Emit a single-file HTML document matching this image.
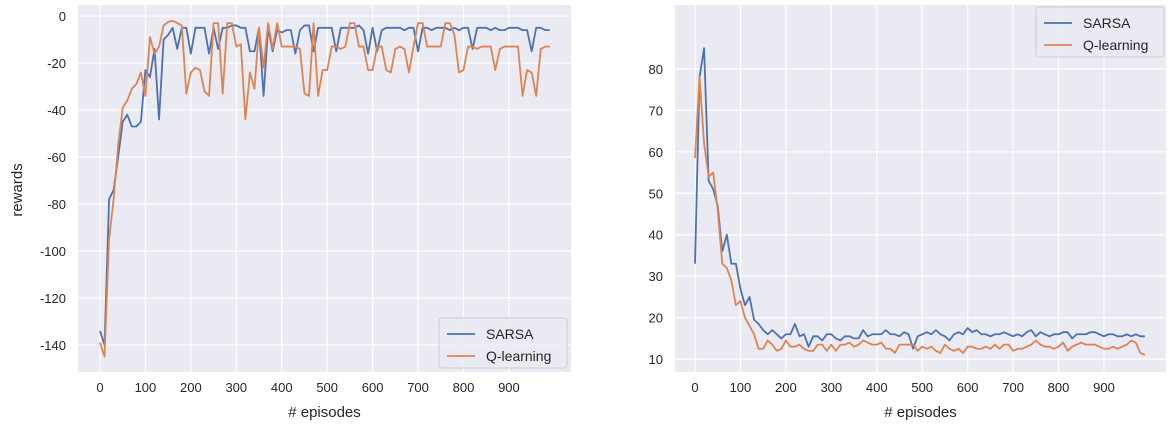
<!DOCTYPE html>
<html><head><meta charset="utf-8"><style>
body{margin:0;background:#fff;width:1173px;height:430px;overflow:hidden}
svg text{font-family:"Liberation Sans",sans-serif;fill:#262626}
</style></head><body>
<svg id="c" width="1173" height="430" xmlns="http://www.w3.org/2000/svg"></svg>
<script>
const episodes=[];for(let i=0;i<100;i++)episodes.push(i*10);
const leftSarsa=[-134,-140,-78,-74,-60,-45,-42,-47,-47,-45,-23,-26,-14,-44,-10,-8,-5,-14,-5,-5,-16,-5,-5,-5,-16,-5,-14,-5,-5,-4,-4,-5,-5,-15,-15,-5,-34,-5,-15,-6,-7,-6,-6,-16,-6,-4,-4,-15,-5,-5,-5,-5,-15,-5,-5,-5,-5,-4,-6,-16,-5,-15,-6,-5,-5,-5,-5,-6,-5,-5,-15,-5,-5,-6,-5,-5,-5,-6,-5,-6,-5,-5,-14,-5,-5,-5,-6,-5,-6,-6,-5,-5,-5,-6,-6,-15,-5,-5,-6,-6];
const leftQ=[-139,-145,-95,-78,-55,-39,-36,-31,-29,-24,-34,-9,-16,-13,-4,-2.5,-2,-3,-4,-33,-24,-22,-23,-32,-34,-3,-3,-33,-3,-3,-13,-12,-44,-24,-31,-5,-22,-3,-14,-3,-13,-13,-13,-13,-14,-33,-34,-3,-34,-23,-23,-13,-13,-14,-13,-3,-3,-13,-13,-23,-23,-13,-13,-23,-24,-14,-13,-14,-24,-13,-3,-3,-13,-13,-13,-13,-3,-3,-8,-24,-23,-13,-13,-14,-13,-13,-13,-23,-14,-13,-13,-13,-13,-34,-23,-24,-34,-14,-13,-13];
const rightSarsa=[33,78,85,53,51,47,36,40,33,33,27,23,25,19.5,18.5,17,16,17,16,15,16,16,18.5,15.5,16,13,15.5,15.5,14.5,16,16,15,14.5,15.5,15.5,15,15,17,15.5,16,16,16,17,16,16,15.5,16.5,16,12.5,15.5,16,16.5,16,17,16,15.5,14.5,16,16.5,16,17.5,16.5,17,16,16,15.5,16,16,16.5,16,15.5,16,15.5,16.5,17,15.5,16.5,16,15.5,16,16,16.5,16.5,15,16,16,16,16.5,16.5,16,15.5,16,16,15.5,15.5,16,15.5,16,15.5,15.5];
const rightQ=[58.5,78,62,54,55,46,33,32,29,23,24,20,18,16,12.5,12.5,14.5,13.5,12,12.5,14.5,13,13,13.5,12.5,12,12,13.5,13.5,12,13.5,12,13.5,13.5,14,13,13.5,14.5,14,13.5,13.5,14,12.5,12.5,11.5,13.5,13.5,13.5,13.5,12,13,12.5,13,12,11.5,13.5,12.5,12,12.5,11.5,13,13,12.5,12.5,13,12.5,13.5,12.5,13.5,13.5,12,12.5,12.5,13,13.5,14.5,13.5,13,13,12.5,13,14,12,13,13.5,14,13.5,13.5,13.5,13,12.5,12.5,13,12.5,13,13.5,14.5,14,11.5,11];
const xTicks=[0,100,200,300,400,500,600,700,800,900];
const leftYTicks=[0,-20,-40,-60,-80,-100,-120,-140];
const rightYTicks=[10,20,30,40,50,60,70,80];
const svg=document.getElementById('c');const NS='http://www.w3.org/2000/svg';
function mk(t,a,p){const e=document.createElementNS(NS,t);for(const k in a)e.setAttribute(k,a[k]);(p||svg).appendChild(e);return e;}
function panel(o){
 const g=mk('g',{});
 
 
 const sx=v=>o.x0+(v-o.xd0)*(o.x1-o.x0)/(o.xd1-o.xd0);
 const sy=v=>o.y1-(v-o.yd0)*(o.y1-o.y0)/(o.yd1-o.yd0);
 const bg=mk('rect',{x:o.x0,y:o.y0,width:o.x1-o.x0,height:o.y1-o.y0,fill:'#eaeaf2'},g);
 
 
 xTicks.forEach(t=>{mk('line',{x1:sx(t),x2:sx(t),y1:o.y0,y2:o.y1,stroke:'#fff','stroke-width':1.2},g);
  const tx=mk('text',{x:sx(t),y:o.y1+20,'text-anchor':'middle','font-size':13},g);tx.textContent=t;
  
  });
 o.yt.forEach(t=>{mk('line',{x1:o.x0,x2:o.x1,y1:sy(t),y2:sy(t),stroke:'#fff','stroke-width':1.2},g);
  const tx=mk('text',{x:o.x0-12,y:sy(t)+5,'text-anchor':'end','font-size':13},g);tx.textContent=t;
  
  });
 [[o.s,'#4c72b0','sarsa-line'],[o.q,'#dd8452','q-learning-line']].forEach(([d,c,n])=>{
  const p=mk('polyline',{points:d.map((v,i)=>sx(episodes[i])+','+sy(v)).join(' '),fill:'none',stroke:c,'stroke-width':1.8,'stroke-linejoin':'round'},g);
  
  });
 const xl=mk('text',{x:(o.x0+o.x1)/2,y:417,'text-anchor':'middle','font-size':15},g);xl.textContent='# episodes';
 
 
 const lg=mk('g',{},g);
 
 
 mk('rect',{x:o.lx,y:o.ly,width:128,height:50,rx:3,fill:'#eaeaf2',stroke:'#ccc','fill-opacity':0.8},lg);
 [['SARSA','#4c72b0',16],['Q-learning','#dd8452',38]].forEach(([t,c,dy])=>{
  mk('line',{x1:o.lx+8,x2:o.lx+36,y1:o.ly+dy,y2:o.ly+dy,stroke:c,'stroke-width':1.8},lg);
  const tx=mk('text',{x:o.lx+47,y:o.ly+dy+5,'font-size':14},lg);tx.textContent=t;
  
  });
}
panel({name:'rewards-chart',x0:78,x1:571,y0:5,y1:372,xd0:-48.4,xd1:1036.6,yd0:-151.5,yd1:4.7,yt:leftYTicks,s:leftSarsa,q:leftQ,lx:439,ly:318});
panel({name:'episode-length-chart',x0:675,x1:1166,y0:5,y1:372,xd0:-44,xd1:1036.5,yd0:6.9,yd1:95.4,yt:rightYTicks,s:rightSarsa,q:rightQ,lx:1036,ly:7});
const yl=mk('text',{x:22,y:190,'text-anchor':'middle','font-size':15,transform:'rotate(-90 22 190)'});yl.textContent='rewards';


</script>
</body></html>
